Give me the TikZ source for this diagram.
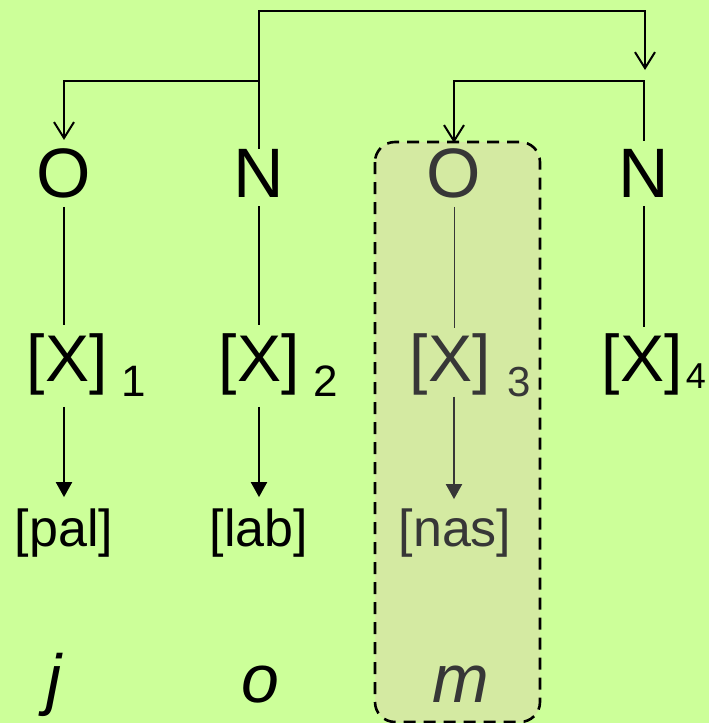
\documentclass[tikz,border=0pt]{standalone}
\usepackage{fontspec}
\setmainfont{Liberation Sans}
\usetikzlibrary{arrows.meta}
\definecolor{bg}{RGB}{204,255,153}
\definecolor{boxfill}{RGB}{212,234,162}
\definecolor{inbox}{RGB}{55,55,55}
\begin{document}
\begin{tikzpicture}[x=1pt,y=-1pt,
  big/.style={inner sep=0pt, anchor=base, font=\fontsize{70}{84}\selectfont},
  brk/.style={inner sep=0pt, anchor=base, font=\fontsize{66}{80}\selectfont},
  sub/.style={inner sep=0pt, anchor=base, font=\fontsize{44}{52}\selectfont},
  feat/.style={inner sep=0pt, anchor=base, font=\fontsize{52}{62}\selectfont},
  seg/.style={inner sep=0pt, anchor=base, font=\itshape\fontsize{68}{80}\selectfont},
  link/.style={line width=2pt},
  thinlink/.style={line width=1pt, draw=inbox},
  openarr/.style={line width=2pt, -{Straight Barb[length=16pt,width=20pt]}},
  solidarr/.style={line width=2pt, -{Triangle[length=15pt,width=16pt]}},
  grp/.style={draw=black, line width=2.6pt, dash pattern=on 12pt off 8pt, fill=boxfill, rounded corners=20pt}
]
\fill[bg] (0,0) rectangle (709,723);
\useasboundingbox (0,0) rectangle (709,723);

% grouping box
\draw[grp] (375,142) rectangle (540,722);

% top-tier nodes
\node[big] (o1) at (64,197) {O};
\node[big] (n2) at (259,197) {N};
\node[big, text=inbox] (o3) at (454,197) {O};
\node[big] (n4) at (644,197) {N};

% skeletal slots
\node[brk] (x1) at (67,381) {[X]};
\node[sub] (s1) at (134,396) {1};
\node[brk] (x2) at (259,381) {[X]};
\node[sub] (s2) at (326,396) {2};
\node[brk, text=inbox] (x3) at (450,381) {[X]};
\node[sub, font=\fontsize{42}{50}\selectfont, text=inbox] (s3) at (519,396) {3};
\node[brk] (x4) at (642,381) {[X]};
\node[sub, font=\fontsize{36}{44}\selectfont] (s4) at (696,388) {4};

% features
\node[feat] (f1) at (64,546) {[pal]};
\node[feat] (f2) at (259,546) {[lab]};
\node[feat, text=inbox] (f3) at (455,546) {[nas]};

% segments
\node[seg] (w1) at (54,702) {j};
\node[seg] (w2) at (260,702) {o};
\node[seg, text=inbox] (w3) at (461,702) {m};

% helper coordinates
\coordinate (top) at (645,11);
\coordinate (tip) at (645,70);
\coordinate (lvl) at (0,81);

% government connectors
\draw[openarr] (n2.north) |- (top) -- (tip);
\draw[openarr] (n2.north |- lvl) -| ([yshift=8pt]o1.north);
\draw[openarr] ([yshift=8pt]n4.north) -- (n4.north |- lvl) -| ([yshift=5pt]o3.north);

% association lines
\draw[link] ([yshift=-9pt]o1.south) -- ([yshift=8pt]o1.south |- x1.north);
\draw[link] ([yshift=-9pt]n2.south) -- ([yshift=8pt]n2.south |- x2.north);
\draw[thinlink] ([yshift=-9pt]o3.south) -- ([yshift=5pt]o3.south |- x3.north);
\draw[link] ([yshift=-9pt]n4.south) -- ([yshift=6pt]n4.south |- x4.north);

% feature arrows
\draw[solidarr] ([yshift=-12pt]o1.south |- x1.south) -- ([yshift=11pt]o1.south |- f1.north);
\draw[solidarr] ([yshift=-12pt]n2.south |- x2.south) -- ([yshift=11pt]n2.south |- f2.north);
\draw[solidarr, draw=inbox, fill=inbox] ([yshift=-2pt]o3.south |- x3.south) -- ([yshift=9pt]o3.south |- f3.north);
\end{tikzpicture}
\end{document}
